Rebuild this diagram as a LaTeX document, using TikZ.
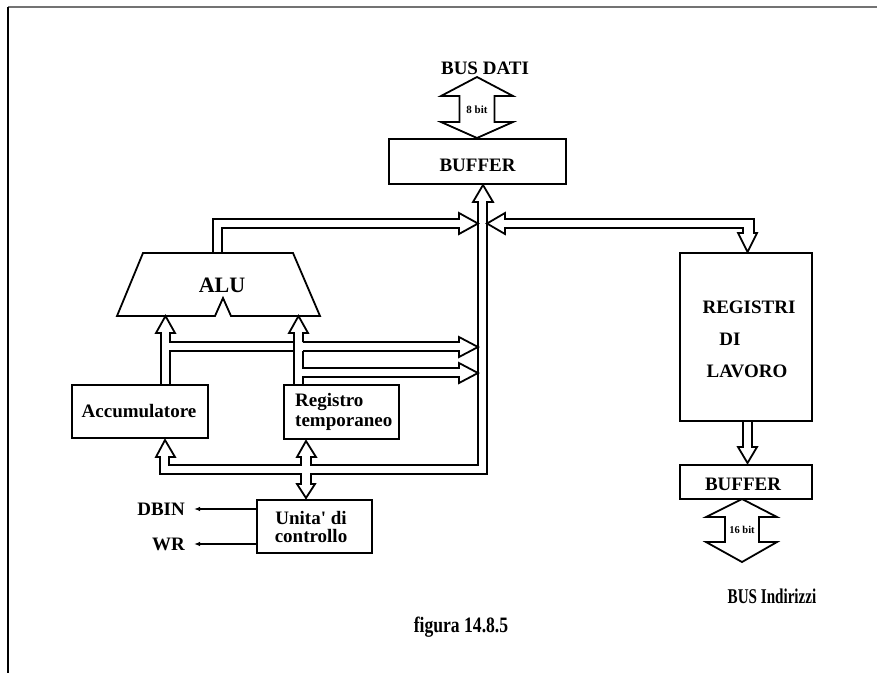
\documentclass[tikz,border=0pt]{standalone}
\usepackage{fontspec}
\setmainfont{Liberation Serif}
\usetikzlibrary{arrows.meta}
\begin{document}
\begin{tikzpicture}[x=1pt,y=-1pt, line join=miter,
  bus/.style={line width=1.8pt, draw=black},
  box/.style={draw, line width=1.8pt, inner sep=0pt},
  lbl/.style={inner sep=0pt, font=\fontsize{19}{20}\selectfont\bfseries, align=center},
  small/.style={inner sep=0pt, font=\fontsize{11}{12}\selectfont\bfseries},
  sig/.style={line width=1.6pt, -{Latex[length=6pt,width=4.5pt]}},
]
\useasboundingbox (0,0) rectangle (877,673);
% frame
\draw[line width=2pt, draw=black!55] (8,7) -- (877,7);
\draw[line width=1.5pt] (8,7) -- (8,673);

% boxes
\node[box, minimum width=177pt, minimum height=45pt] (buf1) at (477.5,161.5) {};
\node[lbl] (buf1t) at (477.5,165) {BUFFER};
\node[box, minimum width=136pt, minimum height=53pt] (acc) at (140,411.5) {};
\node[lbl] (acct) at (139,411) {Accumulatore};
\node[box, minimum width=115pt, minimum height=54pt] (reg) at (341.5,412) {};
\node[lbl, align=left, font=\fontsize{19}{20}\selectfont\bfseries, anchor=west] (regt) at (295,412) {Registro\\temporaneo};
\node[box, minimum width=115pt, minimum height=53pt] (uc) at (314.5,526.5) {};
\node[lbl, font=\fontsize{19}{18}\selectfont\bfseries] (uct) at (311,527) {Unita\textquotesingle{} di\\controllo};
\node[box, minimum width=132pt, minimum height=168pt] (rl) at (746,337) {};
\node[lbl] (rl1) at (749,307) {REGISTRI};
\node[lbl] (rl2) at (730,339) {DI};
\node[lbl] (rl3) at (747,371) {LAVORO};
\node[box, minimum width=132pt, minimum height=34pt] (buf2) at (746,482) {};
\node[lbl] (buf2t) at (743,484) {BUFFER};

% ALU
\draw[bus] (143,253) -- (293,253) -- (320,316) -- (231,316) -- (223,298) -- (215,316) -- (117,316) -- cycle;
\node[inner sep=0pt, font=\fontsize{22}{24}\selectfont\bfseries] (alu) at (222,285) {ALU};

% labels
\node[lbl] (busdati) at (485,68) {BUS DATI};
\node[lbl, font=\fontsize{21}{22}\selectfont\bfseries] (busind) at (772,596) {\scalebox{0.72}[1]{BUS Indirizzi}};
\node[lbl, font=\fontsize{22}{24}\selectfont\bfseries] (fig) at (461,627) {\scalebox{0.8}[1]{figura 14.8.5}};

% 8 bit double arrow
\draw[bus] (477,77) -- (513,96) -- (494.5,96) -- (494.5,122) -- (513,122) -- (477,138) -- (441,122) -- (459.5,122) -- (459.5,96) -- (441,96) -- cycle;
\node[small] (b8) at (477,110) {8 bit};

% 16 bit double arrow
\draw[bus] (742,499) -- (777,517) -- (759,517) -- (759,542) -- (777,542) -- (742,562) -- (706,542) -- (725,542) -- (725,517) -- (706,517) -- cycle;
\node[small, font=\fontsize{10.5}{12}\selectfont\bfseries] (b16) at (742,530) {16 bit};

% central data bus with lower branch
\draw[bus] (493,202) -- (483,185) -- (473,202) -- (478,202) -- (478,465) -- (311,465) -- (311,457) -- (316,457) -- (306,441) -- (297,457) -- (301,457) -- (301,465) -- (169,465) -- (169,457) -- (175,457) -- (165,440) -- (156,457) -- (160,457) -- (160,474) -- (301,474) -- (301,484) -- (297,484) -- (306,498) -- (315,484) -- (311,484) -- (311,474) -- (487,474) -- (487,202) -- cycle;

% ALU output bus
\draw[bus] (213,253) -- (213,219) -- (459,219) -- (459,213) -- (478,223.5) -- (459,234) -- (459,228) -- (222,228) -- (222,253);

% bus to registri di lavoro
\draw[bus] (487,223.5) -- (505,213) -- (505,219) -- (754,219) -- (754,233) -- (757,233) -- (747.5,252) -- (738,233) -- (743,233) -- (743,228) -- (505,228) -- (505,234) -- cycle;

% registri -> buffer
\draw[bus] (743,421) -- (743,447) -- (738,447) -- (747.5,463) -- (757,447) -- (752,447) -- (752,421);

% accumulatore -> ALU and bus
\draw[bus] (161,385) -- (161,333) -- (156,333) -- (165.5,316) -- (175,333) -- (170,333) -- (170,342) -- (294,342);
\draw[bus] (303,342) -- (459,342) -- (459,337) -- (478,347) -- (459,357) -- (459,351) -- (303,351);
\draw[bus] (294,351) -- (170,351) -- (170,385);

% registro -> ALU and bus
\draw[bus] (294,385) -- (294,333) -- (289,333) -- (298.5,316) -- (308,333) -- (303,333) -- (303,342);
\draw[bus] (303,351) -- (303,368) -- (459,368) -- (459,363) -- (478,373) -- (459,383) -- (459,377) -- (303,377) -- (303,385);

% control signals
\node[lbl, anchor=east] (dbin) at (185,509) {DBIN};
\node[lbl, anchor=east] (wr) at (185,544) {WR};
\coordinate (dbinend) at (194,509);
\coordinate (wrend) at (194,544);
\draw[sig] (uc.west |- dbinend) -- (dbinend);
\draw[sig] (uc.west |- wrend) -- (wrend);
\end{tikzpicture}
\end{document}
